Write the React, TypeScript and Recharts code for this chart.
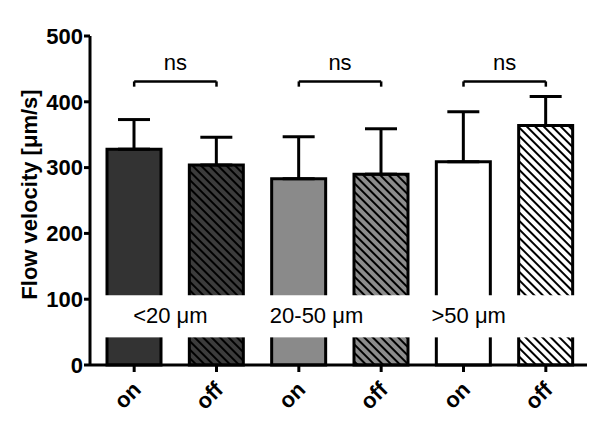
import {
  BarChart,
  Bar,
  Cell,
  XAxis,
  YAxis,
  ErrorBar,
  ReferenceArea,
  ReferenceLine,
  ReferenceDot,
} from "recharts";

const conditions = ["on", "off", "on", "off", "on", "off"];
const meanVelocity = [328, 304, 283, 290, 309, 364];
const semVelocity = [45, 42, 64, 69, 76, 44];
const vesselGroups = ["<20 μm", "20-50 μm", ">50 μm"];
const significance = ["ns", "ns", "ns"];
const yTicks = [0, 100, 200, 300, 400, 500];

const FONT = "'Liberation Sans', Arial, Helvetica, sans-serif";
const barFills = [
  "#333333",
  "url(#hatchDark)",
  "#8a8a8a",
  "url(#hatchMid)",
  "#ffffff",
  "url(#hatchWhite)",
];
// hand placed offsets of the group names, relative to the "on" bar
const groupLabelDx = [-1, -29, -32];

const data = conditions.map((c, i) => ({
  key: `${c}-${i}`,
  label: c,
  mean: meanVelocity[i],
  err: [0, semVelocity[i]],
}));

const XTick = ({ x, y, payload }: any) => {
  const label = payload.value.split("-")[0];
  const tx = x + 8;
  const ty = y + 17;
  return (
    <text
      x={tx}
      y={ty}
      transform={`rotate(-45 ${tx} ${ty})`}
      textAnchor="end"
      fontFamily={FONT}
      fontWeight="bold"
      fontSize={22}
      fill="#000"
    >
      {label}
    </text>
  );
};

const BandShape = (props: any) => (
  <rect
    x={props.x + 2}
    y={props.y}
    width={props.width - 2}
    height={props.height}
    fill="#ffffff"
  />
);

function Hatch({ id, bg }: { id: string; bg: string }) {
  return (
    <pattern
      id={id}
      patternUnits="userSpaceOnUse"
      width={6}
      height={6}
      patternTransform="rotate(-45)"
    >
      <rect width={6} height={6} fill={bg} />
      <rect x={0} y={0} width={2} height={6} fill="#000" />
    </pattern>
  );
}

export default function App() {
  return (
    <div style={{ position: "absolute", left: 0, top: 0, background: "#fff" }}>
      <BarChart
        width={600}
        height={427}
        data={data}
        margin={{ top: 36, right: 13, left: 0, bottom: 0 }}
      >
        <defs>
          <Hatch id="hatchDark" bg="#3c3c3c" />
          <Hatch id="hatchMid" bg="#8c8c8c" />
          <Hatch id="hatchWhite" bg="#ffffff" />
        </defs>
        <XAxis
          dataKey="key"
          height={62}
          interval={0}
          padding={{ left: 3, right: 0 }}
          tick={<XTick />}
          tickSize={7}
          axisLine={{ stroke: "#000", strokeWidth: 3 }}
          tickLine={{ stroke: "#000", strokeWidth: 3 }}
        />
        <YAxis
          width={90}
          domain={[0, 500]}
          ticks={yTicks}
          tickSize={6}
          tickMargin={1}
          axisLine={{ stroke: "#000", strokeWidth: 3 }}
          tickLine={{ stroke: "#000", strokeWidth: 3 }}
          tick={{ fill: "#000", fontSize: 22, fontWeight: "bold", fontFamily: FONT }}
          label={({ viewBox }: any) => {
            const cx = viewBox.x + 29;
            const cy = viewBox.y + viewBox.height / 2 - 6;
            return (
              <text
                x={cx}
                y={cy}
                transform={`rotate(-90 ${cx} ${cy})`}
                textAnchor="middle"
                dominantBaseline="central"
                fontFamily={FONT}
                fontWeight="bold"
                fontSize={22}
                fill="#000"
              >
                Flow velocity [μm/s]
              </text>
            );
          }}
        />
        <Bar
          dataKey="mean"
          barSize={54}
          stroke="#000"
          strokeWidth={3}
          isAnimationActive={false}
        >
          {data.map((d, i) => (
            <Cell key={d.key} fill={barFills[i]} />
          ))}
          <ErrorBar
            dataKey="err"
            direction="y"
            width={16}
            stroke="#000"
            strokeWidth={3}
            isAnimationActive={false}
          />
        </Bar>
        <ReferenceArea y1={42} y2={106} shape={<BandShape />} zIndex={350} />
        {vesselGroups.map((g, k) => (
          <ReferenceDot
            key={g}
            x={data[k * 2].key}
            y={64}
            r={0}
            fill="none"
            stroke="none"
            label={({ viewBox }: any) => (
              <text
                x={viewBox.x + groupLabelDx[k]}
                y={viewBox.y}
                fontFamily={FONT}
                fontSize={22}
                fill="#000"
              >
                {g}
              </text>
            )}
          />
        ))}
        {significance.map((s, k) => {
          const a = data[k * 2].key;
          const b = data[k * 2 + 1].key;
          return [
            <ReferenceLine
              key={`h${k}`}
              segment={[
                { x: a, y: 431 },
                { x: b, y: 431 },
              ]}
              stroke="#000"
              strokeWidth={2.5}
              label={{
                value: s,
                position: "top",
                offset: 11,
                fontSize: 22,
                fontFamily: FONT,
                fill: "#000",
              }}
            />,
            <ReferenceLine
              key={`l${k}`}
              segment={[
                { x: a, y: 431 },
                { x: a, y: 423 },
              ]}
              stroke="#000"
              strokeWidth={2.5}
            />,
            <ReferenceLine
              key={`r${k}`}
              segment={[
                { x: b, y: 431 },
                { x: b, y: 423 },
              ]}
              stroke="#000"
              strokeWidth={2.5}
            />,
          ];
        })}
      </BarChart>
    </div>
  );
}
